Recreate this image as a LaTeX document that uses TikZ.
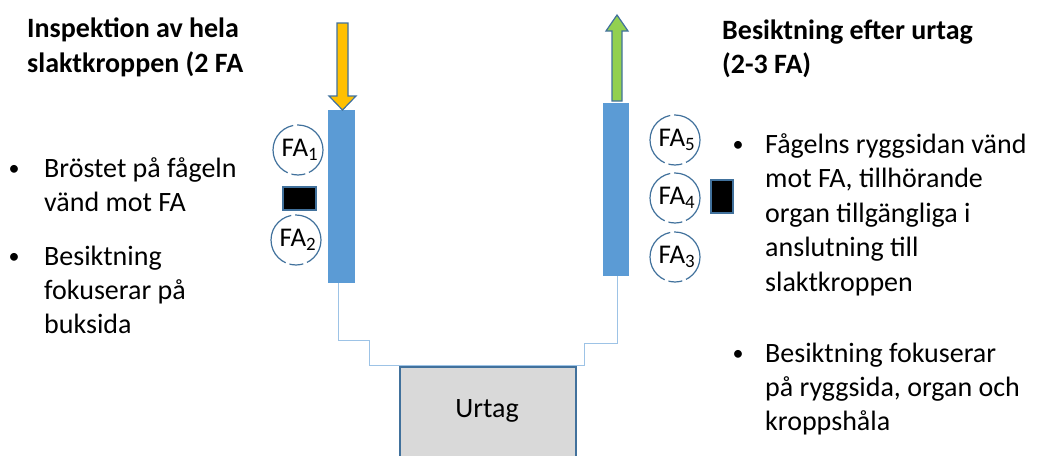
\documentclass[tikz,border=0pt]{standalone}
\usepackage{fontspec}
\setmainfont{Carlito}
\definecolor{bord}{HTML}{41719C}
\definecolor{barblue}{HTML}{5B9BD5}
\definecolor{lineblue}{HTML}{9DC3E6}
\definecolor{orangefill}{HTML}{FFC000}
\definecolor{greenfill}{HTML}{92D050}
\definecolor{grayfill}{HTML}{D9D9D9}
\tikzset{
  txt/.style={anchor=base west, inner sep=0pt, align=left, font=\fontsize{28}{34}\selectfont},
  head/.style={anchor=base west, inner sep=0pt, align=left, font=\fontsize{28}{35}\bfseries\selectfont},
  bul/.style={anchor=base, inner sep=0pt, font=\fontsize{22}{34}\selectfont},
  bar/.style={fill=barblue, draw=none, minimum width=#1, inner sep=0pt},
  fa/.style={circle, draw=bord, line width=1.2pt, dash pattern=on 40pt off 4pt on 63pt off 4pt on 14pt off 4pt on 28pt off 0pt, minimum size=50pt, inner sep=0pt, font=\fontsize{27}{28}\selectfont},
  blk/.style={fill=black, draw=bord, line width=1.2pt, inner sep=0pt},
  conn/.style={draw=lineblue, line width=1pt},
  arr/.style={draw=bord, line width=1.2pt, line join=miter},
}
\begin{document}
\begin{tikzpicture}[x=1pt, y=-1pt]
\useasboundingbox (0,0) rectangle (1038,455);
% bars
\node[bar=27pt, minimum height=173pt] (lbar) at (341.5,196.5) {};
\node[bar=26pt, minimum height=173pt] (rbar) at (616,189.5) {};
% arrows
\draw[arr, fill=orangefill] (337,23) -- (348,23) -- (348,96) -- (356,96) -- (342.5,110) -- (329,96) -- (337,96) -- cycle;
\draw[arr, fill=greenfill] (612,101) -- (622,101) -- (622,31) -- (628,31) -- (617,15) -- (606,31) -- (612,31) -- cycle;
% connector
\coordinate (l1) at (338,340);
\coordinate (l2) at (369,340);
\coordinate (l3) at (369,365);
\coordinate (r3) at (584,365);
\coordinate (r2) at (584,343);
\coordinate (r1) at (617,343);
\draw[conn] (lbar.south -| l1) -- (l1) -- (l2) -- (l3) -- (r3) -- (r2) -- (r1) -- (rbar.south -| r1);
% urtag
\node[fill=grayfill, draw=bord, line width=1.5pt, minimum width=176pt, minimum height=100pt, anchor=north west, inner sep=0pt] (urtag) at (399,366) {};
\node[inner sep=0pt, font=\fontsize{28}{34}\selectfont] (urtagtxt) at (487,411) {Urtag};
% FA circles
\node[fa] (fa1) at (298,150) {\hspace*{4pt}FA\textsubscript{1}};
\node[fa] (fa2) at (296,240) {\hspace*{4pt}FA\textsubscript{2}};
\node[fa] (fa5) at (675,140) {\hspace*{4pt}FA\textsubscript{5}};
\node[fa] (fa4) at (675,198) {\hspace*{4pt}FA\textsubscript{4}};
\node[fa] (fa3) at (675,257) {\hspace*{4pt}FA\textsubscript{3}};
% black boxes
\node[blk, minimum width=33pt, minimum height=23pt] (bl) at (299.5,198.5) {};
\node[blk, minimum width=22pt, minimum height=33pt] (br) at (722,196.5) {};
% headers (anchored at baseline of last line)
\node[head] (hl) at (27,72) {Inspektion av hela\\slaktkroppen (2 FA};
\node[head, font=\fontsize{28}{34}\bfseries\selectfont] (hr) at (722,73) {Besiktning efter urtag\\(2-3 FA)};
% left bullets
\node[bul] (b1) at (14,175) {•};
\node[txt] (t1) at (44,211) {Bröstet på fågeln\\vänd mot FA};
\node[bul] (b2) at (14,263) {•};
\node[txt] (t2) at (44,333) {Besiktning\\fokuserar på\\buksida};
% right bullets
\node[bul] (b3) at (738,151) {•};
\node[txt, font=\fontsize{28}{34.5}\selectfont] (t3) at (765,291) {Fågelns ryggsidan vänd\\mot FA, tillhörande\\organ tillgängliga i\\anslutning till\\slaktkroppen};
\node[bul] (b4) at (738,360) {•};
\node[txt] (t4) at (765,430) {Besiktning fokuserar\\på ryggsida, organ och\\kroppshåla};
\end{tikzpicture}
\end{document}
